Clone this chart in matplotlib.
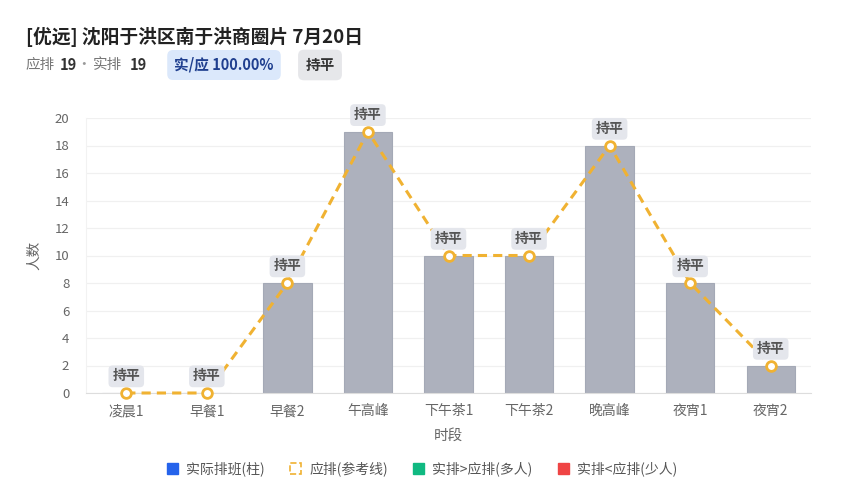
import matplotlib.pyplot as plt
from matplotlib.patches import Patch

plt.rcParams['font.family'] = ['Noto Sans CJK SC', 'DejaVu Sans']

# data
periods = ["凌晨1", "早餐1", "早餐2", "午高峰", "下午茶1", "下午茶2", "晚高峰", "夜宵1", "夜宵2"]
actual = [0, 0, 8, 19, 10, 10, 18, 8, 2]
planned = [0, 0, 8, 19, 10, 10, 18, 8, 2]
status = ["持平"] * len(periods)

title = "[优远] 沈阳于洪区南于洪商圈片 7月20日"
planned_total = 19
actual_total = 19
ratio_text = "实/应 100.00%"
overall_status = "持平"

BAR_COLOR = "#adb1bd"
LINE_COLOR = "#f0b232"
TEXT_GREY = "#666666"

fig = plt.figure(figsize=(8.44, 5.0), dpi=100)
ax = fig.add_axes([86 / 844, 1 - 393 / 500, (811 - 86) / 844, (393 - 118) / 500])

x = list(range(len(periods)))
ax.bar(x, actual, width=0.6, color=BAR_COLOR, edgecolor="#a4a9b6", linewidth=0.8, zorder=2)
ax.plot(x, planned, color=LINE_COLOR, linestyle=(0, (3, 2)), linewidth=2.2,
        marker="o", markersize=7, markerfacecolor="white",
        markeredgecolor=LINE_COLOR, markeredgewidth=2, zorder=3, clip_on=False)

for xi, yi, s in zip(x, planned, status):
    ax.annotate(s, (xi, yi), xytext=(0, 12), textcoords="offset points",
                ha="center", va="center", fontsize=10, fontweight="bold", color="#555555",
                bbox=dict(boxstyle="round,pad=0.28,rounding_size=0.3",
                          facecolor="#e4e6ec", edgecolor="none"),
                zorder=4, annotation_clip=False)

ax.set_xlim(-0.5, len(periods) - 0.5)
ax.set_ylim(0, 20)
ax.set_yticks(range(0, 21, 2))
ax.set_xticks(x)
ax.set_xticklabels(periods)
ax.tick_params(axis="both", length=0, colors=TEXT_GREY, labelsize=9.5)
ax.tick_params(axis="x", labelsize=10, pad=8)
ax.tick_params(axis="y", pad=12)
ax.grid(axis="y", color="#f0f0f0", linewidth=0.9, zorder=0)
ax.set_axisbelow(True)
for side in ["top", "right"]:
    ax.spines[side].set_visible(False)
ax.spines["left"].set_color("#f2f2f2")
ax.spines["bottom"].set_color("#dddddd")
ax.set_xlabel("时段", color=TEXT_GREY, fontsize=10.5, labelpad=8)
ax.set_ylabel("人数", color=TEXT_GREY, fontsize=10.5, labelpad=10)

# header
sub_y = 1 - 65 / 500
fig.text(26 / 844, 1 - 37 / 500, title, fontsize=13.5, fontweight="bold",
         color="#222222", va="center", ha="left")
fig.text(26 / 844, sub_y, "应排", fontsize=10.5, color="#777777", va="center")
fig.text(60 / 844, sub_y, f"{planned_total}", fontsize=10.5, fontweight="bold",
         color="#333333", va="center")
fig.text(84 / 844, sub_y, "·", fontsize=10.5, color="#999999", va="center", ha="center")
fig.text(93 / 844, sub_y, "实排", fontsize=10.5, color="#777777", va="center")
fig.text(130 / 844, sub_y, f"{actual_total}", fontsize=10.5, fontweight="bold",
         color="#333333", va="center")
fig.text(224 / 844, sub_y, ratio_text, fontsize=10.5, fontweight="bold",
         color="#1f3f8f", va="center", ha="center",
         bbox=dict(boxstyle="round,pad=0.48,rounding_size=0.4",
                   facecolor="#dbe8fb", edgecolor="none"))
fig.text(320 / 844, sub_y, overall_status, fontsize=10.5, fontweight="bold",
         color="#333333", va="center", ha="center",
         bbox=dict(boxstyle="round,pad=0.5,rounding_size=0.4",
                   facecolor="#e6e7ea", edgecolor="none"))

# legend
handles = [
    Patch(facecolor="#2563eb", edgecolor="#2563eb"),
    Patch(facecolor="none", edgecolor=LINE_COLOR, linestyle="--", linewidth=1.2),
    Patch(facecolor="#10b981", edgecolor="#10b981"),
    Patch(facecolor="#ef4444", edgecolor="#ef4444"),
]
labels = ["实际排班(柱)", "应排(参考线)", "实排>应排(多人)", "实排<应排(少人)"]
leg = fig.legend(handles, labels, loc="center", bbox_to_anchor=(0.5, 1 - 469 / 500),
                 ncol=4, frameon=False, fontsize=10, handlelength=0.8,
                 handleheight=0.8, handletextpad=0.6, columnspacing=1.8)
for t in leg.get_texts():
    t.set_color("#555555")

fig.savefig("out.png", dpi=100)
